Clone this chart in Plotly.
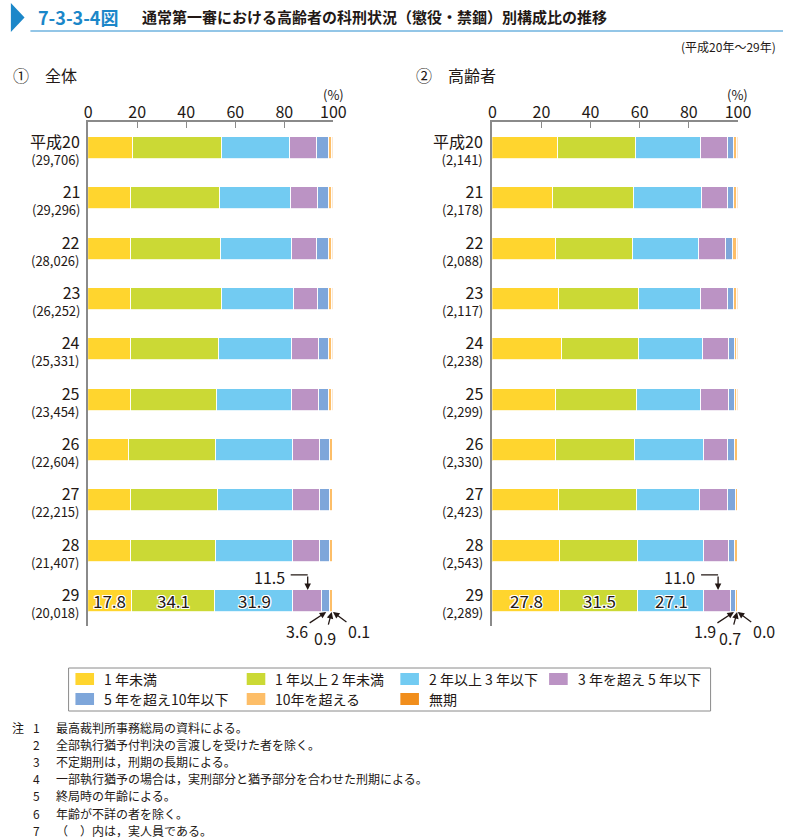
import plotly.graph_objects as go

# ---------------- data ----------------
years = ["平成20", "21", "22", "23", "24", "25", "26", "27", "28", "29"]
counts_all = ["29,706", "29,296", "28,026", "26,252", "25,331", "23,454", "22,604", "22,215", "21,407", "20,018"]
counts_old = ["2,141", "2,178", "2,088", "2,117", "2,238", "2,299", "2,330", "2,423", "2,543", "2,289"]

categories = ["1 年未満", "1 年以上 2 年未満", "2 年以上 3 年以下", "3 年を超え 5 年以下",
              "5 年を超え10年以下", "10年を超える", "無期"]
colors = ["#FFD52E", "#CBD935", "#72CBF2", "#BB93C4", "#7EA6DA", "#FDBE68", "#F18E1C"]

# 全体 (%)
all_lt1    = [18.5, 17.6, 17.6, 17.7, 17.4, 17.4, 16.9, 17.4, 17.4, 17.8]
all_1to2   = [36.0, 36.4, 36.7, 36.8, 36.2, 35.4, 35.5, 35.5, 34.7, 34.1]
all_2to3   = [27.8, 28.7, 28.8, 29.4, 29.6, 30.4, 31.2, 30.9, 31.4, 31.9]
all_3to5   = [11.3, 11.0, 10.4, 10.1, 11.1, 10.9, 10.9, 10.9, 11.2, 11.5]
all_5to10  = [4.7, 4.6, 4.8, 4.3, 4.1, 4.3, 4.2, 4.0, 4.0, 3.6]
all_over10 = [1.2, 1.3, 1.3, 1.3, 1.2, 1.3, 1.1, 1.1, 1.1, 0.9]
all_life   = [0.5, 0.4, 0.4, 0.4, 0.4, 0.3, 0.2, 0.2, 0.2, 0.1]

# 高齢者 (%)
old_lt1    = [26.7, 24.7, 25.9, 27.4, 28.4, 26.2, 25.9, 27.1, 27.5, 27.8]
old_1to2   = [32.1, 33.3, 31.5, 32.4, 31.5, 33.0, 32.4, 31.9, 32.0, 31.5]
old_2to3   = [26.2, 27.3, 26.9, 25.3, 25.9, 25.8, 28.2, 25.5, 26.7, 27.1]
old_3to5   = [11.0, 10.8, 11.0, 10.9, 10.7, 11.5, 9.6, 11.6, 10.2, 11.0]
old_5to10  = [2.4, 2.3, 2.8, 2.4, 2.6, 2.6, 2.8, 3.1, 2.4, 1.9]
old_over10 = [1.5, 1.5, 1.6, 1.5, 0.8, 0.8, 1.1, 0.8, 1.2, 0.7]
old_life   = [0.1, 0.1, 0.3, 0.1, 0.1, 0.1, 0.0, 0.0, 0.0, 0.0]

series_all = [all_lt1, all_1to2, all_2to3, all_3to5, all_5to10, all_over10, all_life]
series_old = [old_lt1, old_1to2, old_2to3, old_3to5, old_5to10, old_over10, old_life]

x_ticks = [0, 20, 40, 60, 80, 100]

notes = [
    ("注", "1", "最高裁判所事務総局の資料による。"),
    ("", "2", "全部執行猶予付判決の言渡しを受けた者を除く。"),
    ("", "3", "不定期刑は，刑期の長期による。"),
    ("", "4", "一部執行猶予の場合は，実刑部分と猶予部分を合わせた刑期による。"),
    ("", "5", "終局時の年齢による。"),
    ("", "6", "年齢が不詳の者を除く。"),
    ("", "7", "（　）内は，実人員である。"),
]

# ---------------- layout helpers ----------------
W, H = 796, 839
FONT = "Noto Sans CJK JP, Noto Sans, sans-serif"
TXT = "#231815"


def px(x):
    return x / W


def py(y):
    return 1 - y / H


fig = go.Figure()
idx = list(range(len(years)))
BAR_W = 0.44

for panel, (series, xa, ya) in enumerate([(series_all, "x", "y"), (series_old, "x2", "y2")]):
    for name, vals, col in zip(categories, series, colors):
        fig.add_trace(go.Bar(
            y=idx, x=vals, orientation="h", name=name, width=BAR_W,
            marker=dict(color=col, line=dict(color="white", width=0.8)),
            xaxis=xa, yaxis=ya, showlegend=False, hoverinfo="x+name",
        ))

y_range = [9.497, -0.517]
ydom = [py(626), py(122)]
axis_common = dict(range=[0, 100], tickvals=x_ticks, side="top", showline=True,
                   linecolor="#8a8a8a", linewidth=1.5, ticks="inside", ticklen=6,
                   tickcolor="#8a8a8a", tickwidth=1.2, showgrid=False, zeroline=False,
                   ticklabelstandoff=-4,
                   tickfont=dict(size=16, color=TXT, family=FONT), fixedrange=True)
yaxis_common = dict(range=y_range, domain=ydom, showline=True, linecolor="#8a8a8a",
                    linewidth=1.5, showticklabels=False, ticks="", showgrid=False,
                    zeroline=False, fixedrange=True)

fig.update_layout(
    width=W, height=H, margin=dict(l=0, r=0, t=0, b=0),
    paper_bgcolor="white", plot_bgcolor="white", barmode="stack", bargap=0,
    font=dict(family=FONT, color=TXT),
    xaxis=dict(domain=[px(86), px(336.5)], anchor="y", **axis_common),
    yaxis=dict(anchor="x", **yaxis_common),
    xaxis2=dict(domain=[px(499), px(750)], anchor="y2", **axis_common),
    yaxis2=dict(anchor="x2", **yaxis_common),
)

ann = []
shapes = []

# title
shapes.append(dict(type="path", xref="paper", yref="paper",
                   path=f"M {px(7)} {py(3)} L {px(21)} {py(17.5)} L {px(7)} {py(32)} Z",
                   fillcolor="#1B87C9", line=dict(width=0)))
shapes.append(dict(type="line", xref="paper", yref="paper", x0=px(27), x1=px(796),
                   y0=py(31), y1=py(31), line=dict(color="#6FB3DF", width=1.5)))
ann.append(dict(text="<b>7-3-3-4図</b>", x=px(33), y=py(17), xref="paper", yref="paper",
                xanchor="left", yanchor="middle", showarrow=False,
                font=dict(size=18, color="#1B87C9", family=FONT)))
ann.append(dict(text="<b>通常第一審における高齢者の科刑状況（懲役・禁錮）別構成比の推移</b>",
                x=px(139), y=py(17), xref="paper", yref="paper", xanchor="left",
                yanchor="middle", showarrow=False, font=dict(size=15, color=TXT, family=FONT)))
ann.append(dict(text="(平成20年～29年)", x=px(791), y=py(47), xref="paper", yref="paper",
                xanchor="right", yanchor="middle", showarrow=False,
                font=dict(size=12, color=TXT, family=FONT)))

# panel titles
for cx, num, label in [(7, "①", "全体"), (419, "②", "高齢者")]:
    ann.append(dict(text=num, x=px(cx), y=py(75), xref="paper", yref="paper", xanchor="left",
                    yanchor="middle", showarrow=False, font=dict(size=16, color=TXT, family=FONT)))
    ann.append(dict(text=label, x=px(cx + 33), y=py(75), xref="paper", yref="paper",
                    xanchor="left", yanchor="middle", showarrow=False,
                    font=dict(size=16, color=TXT, family=FONT)))

# (%) labels
for xa in ["x", "x2"]:
    ann.append(dict(text="(%)", x=100, y=py(94), xref=xa, yref="paper", xanchor="center",
                    yanchor="middle", showarrow=False, font=dict(size=13, color=TXT, family=FONT)))

# category labels (year + count)
for xa_right, ya, counts in [(80, "y", counts_all), (492, "y2", counts_old)]:
    for i, (yr, c) in enumerate(zip(years, counts)):
        ann.append(dict(text=f"<span style='font-size:16px'>{yr}</span><br>({c})",
                        x=px(xa_right), y=i, xref="paper", yref=ya, xanchor="right",
                        yanchor="middle", align="right", yshift=-1, showarrow=False,
                        font=dict(size=13, color=TXT, family=FONT)))

# value labels for 平成29
shadow = "1px 1px 0 white, -1px -1px 0 white, 1px -1px 0 white, -1px 1px 0 white, 0 1px 0 white, 0 -1px 0 white, 1px 0 0 white, -1px 0 0 white"
last = len(years) - 1
for series, xa, ya in [(series_all, "x", "y"), (series_old, "x2", "y2")]:
    vals = [s[last] for s in series]
    cum = 0
    mids = []
    for v in vals:
        mids.append(min(round(cum + v / 2, 4), 99.9))
        cum += v
    # inside labels for first three
    for k in range(3):
        ann.append(dict(text=f"{vals[k]:.1f}", x=mids[k], y=last, xref=xa, yref=ya,
                        showarrow=False, xanchor="center", yanchor="middle",
                        font=dict(size=17, color=TXT, family=FONT, shadow=shadow)))
    top = last - BAR_W / 2
    bot = last + BAR_W / 2
    # bent arrow for 3-5 years
    ann.append(dict(text=f"{vals[3]:.1f}", x=mids[3], y=top, xref=xa, yref=ya, showarrow=False,
                    xanchor="right", yanchor="middle", xshift=-21, yshift=13,
                    font=dict(size=16, color=TXT, family=FONT)))
    shapes.append(dict(type="line", xref=xa, yref=ya, xsizemode="pixel", ysizemode="pixel",
                       xanchor=mids[3], yanchor=top, x0=-17, x1=0, y0=15, y1=15,
                       line=dict(color=TXT, width=1.3)))
    ann.append(dict(text="", x=mids[3], y=top, xref=xa, yref=ya, showarrow=True,
                    ax=0, ay=-15, arrowhead=2, arrowsize=1, arrowwidth=1.3, arrowcolor=TXT,
                    standoff=0, startstandoff=0))
    # bottom arrows
    for k, (dx, dy) in zip([4, 5, 6], [(-29, 19), (-7, 26), (26, 19)]):
        ann.append(dict(text=f"{vals[k]:.1f}", x=mids[k], y=bot, xref=xa, yref=ya,
                        showarrow=True, ax=dx, ay=dy, arrowhead=2, arrowsize=1,
                        arrowwidth=1.3, arrowcolor=TXT, standoff=0,
                        font=dict(size=16, color=TXT, family=FONT)))

# legend (manual)
shapes.append(dict(type="rect", xref="paper", yref="paper", x0=px(66), x1=px(722),
                   y0=py(711), y1=py(668), line=dict(color="#8a8a8a", width=1),
                   fillcolor="rgba(0,0,0,0)"))
col_x = [73, 248, 405, 557]
row_y = [679, 699]
for n, (name, col) in enumerate(zip(categories, colors)):
    r, c = divmod(n, 4)
    sx, sy = col_x[c], row_y[r]
    shapes.append(dict(type="rect", xref="paper", yref="paper", x0=px(sx), x1=px(sx + 19),
                       y0=py(sy + 6), y1=py(sy - 6), fillcolor=col, line=dict(width=0)))
    ann.append(dict(text=name, x=px(sx + 27), y=py(sy), xref="paper", yref="paper",
                    xanchor="left", yanchor="middle", showarrow=False,
                    font=dict(size=14, color=TXT, family=FONT)))

# notes
for i, (head, num, body) in enumerate(notes):
    yy = py(727 + i * 17.2)
    if head:
        ann.append(dict(text=head, x=px(6), y=yy, xref="paper", yref="paper", xanchor="left",
                        yanchor="middle", showarrow=False, font=dict(size=12, color=TXT, family=FONT)))
    ann.append(dict(text=num, x=px(28), y=yy, xref="paper", yref="paper", xanchor="left",
                    yanchor="middle", showarrow=False, font=dict(size=12, color=TXT, family=FONT)))
    ann.append(dict(text=body, x=px(51), y=yy, xref="paper", yref="paper", xanchor="left",
                    yanchor="middle", showarrow=False, font=dict(size=12, color=TXT, family=FONT)))

fig.update_layout(annotations=ann, shapes=shapes)
fig.write_html("out.html", config={"displayModeBar": False},
               post_script="document.body.style.margin='0px';document.body.style.padding='0px';document.body.style.overflow='hidden';")
